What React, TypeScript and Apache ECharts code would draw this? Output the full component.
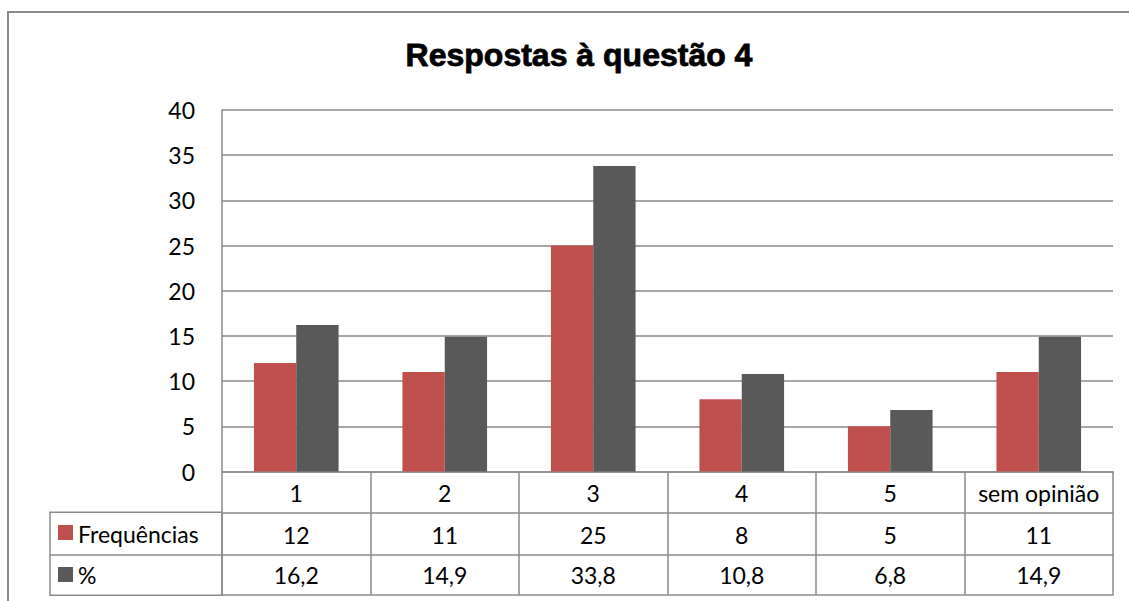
import React, { useEffect, useRef } from "react";
import * as echarts from "echarts";

const titleText = "Respostas à questão 4";
const categories = ["1", "2", "3", "4", "5", "sem opinião"];
const seriesNames = ["Frequências", "%"];
const frequencias = [12, 11, 25, 8, 5, 11];
const percentagens = [16.2, 14.9, 33.8, 10.8, 6.8, 14.9];
const yTicks = { min: 0, max: 40, interval: 5 };

const RED = "#C0504D";
const GRAY = "#595959";
const LINE = "#8a8a8a";
const FONT = "Lato";
const FS = 23;

const fmt = (v: number) => String(v).replace(".", ",");

export default function App() {
  const ref = useRef<HTMLDivElement>(null);
  useEffect(() => {
    if (!ref.current) return;
    const chart = echarts.init(ref.current, null, { renderer: "svg" });
    const gridLeft = 222;
    const gridRight = 1113;
    const axisY = 471.5;
    const tableAxis = (data: string[], offset: number, tickLen: number, margin: number, showLabel = true, showTick = true) => ({
      type: "category",
      data,
      position: "bottom",
      offset,
      boundaryGap: true,
      axisLine: { show: true, lineStyle: { color: LINE, width: 1.5 } },
      axisTick: { show: showTick, length: tickLen, interval: 0, lineStyle: { color: LINE, width: 1.5 } },
      axisLabel: { show: showLabel, interval: 0, margin, fontFamily: FONT, fontSize: FS, color: "#000" },
      splitLine: { show: false },
    });
    chart.setOption({
      animation: false,
      backgroundColor: "#fff",
      title: {
        text: titleText,
        left: 574,
        top: 34,
        textAlign: "center",
        textStyle: {
          fontFamily: "Liberation Sans",
          fontWeight: "bold",
          fontSize: 32,
          color: "#000",
          textBorderColor: "#000",
          textBorderWidth: 0.8,
        },
      },
      grid: { left: gridLeft, right: 1129 - gridRight, top: 110, bottom: 601 - axisY, containLabel: false },
      xAxis: [
        tableAxis(categories, 0, 40.8, 9.5),
        tableAxis(frequencias.map(fmt), 40.8, 43, 11),
        tableAxis(percentagens.map(fmt), 83.5, 40, 8.5),
        tableAxis(categories, 123.5, 0, 0, false, false),
      ],
      yAxis: {
        type: "value",
        min: yTicks.min,
        max: yTicks.max,
        interval: yTicks.interval,
        axisLine: { show: true, lineStyle: { color: LINE, width: 1.5 } },
        axisTick: { show: false },
        axisLabel: { margin: 27, fontFamily: FONT, fontSize: FS, color: "#000" },
        splitLine: { show: true, lineStyle: { color: LINE, width: 1.5 } },
      },
      series: [
        {
          name: seriesNames[0],
          type: "bar",
          xAxisIndex: 0,
          data: frequencias,
          barGap: "0%",
          barCategoryGap: "43%",
          itemStyle: { color: RED },
        },
        {
          name: seriesNames[1],
          type: "bar",
          xAxisIndex: 0,
          data: percentagens,
          barGap: "0%",
          barCategoryGap: "43%",
          itemStyle: { color: GRAY },
        },
      ],
      graphic: [
        {
          type: "rect",
          shape: { x: 8, y: 12, width: 1160, height: 620 },
          style: { fill: "none", stroke: LINE, lineWidth: 2 },
          silent: true,
        },
        {
          type: "rect",
          shape: { x: 50, y: 512.3, width: gridLeft - 50, height: 83 },
          style: { fill: "none", stroke: LINE, lineWidth: 1.5 },
          silent: true,
        },
        {
          type: "line",
          shape: { x1: 50, y1: 555, x2: gridLeft, y2: 555 },
          style: { stroke: LINE, lineWidth: 1.5 },
          silent: true,
        },
        {
          type: "rect",
          shape: { x: 58, y: 525, width: 15, height: 15 },
          style: { fill: RED },
          silent: true,
        },
        {
          type: "rect",
          shape: { x: 58, y: 567, width: 15, height: 15 },
          style: { fill: GRAY },
          silent: true,
        },
        {
          type: "text",
          x: 78,
          y: 534,
          style: { text: seriesNames[0], fontFamily: FONT, fontSize: FS, fill: "#000", verticalAlign: "middle", align: "left" },
          silent: true,
        },
        {
          type: "text",
          x: 78,
          y: 575,
          style: { text: seriesNames[1], fontFamily: FONT, fontSize: FS, fill: "#000", verticalAlign: "middle", align: "left" },
          silent: true,
        },
      ],
    });
    return () => chart.dispose();
  }, []);
  return (
    <div
      ref={ref}
      style={{ position: "fixed", left: 0, top: 0, width: 1129, height: 601, background: "#fff" }}
    />
  );
}
